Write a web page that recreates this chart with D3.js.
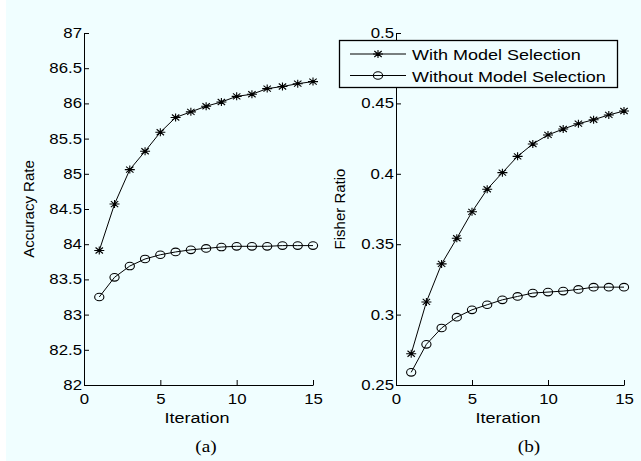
<!DOCTYPE html>
<html>
<head>
<meta charset="utf-8">
<script src="https://cdn.jsdelivr.net/npm/d3@7"></script>
<style>
  body { margin: 0; background: #fff; }
  svg { display: block; }
  text { font-family: "Liberation Sans", Arial, sans-serif; fill: #000; }
  .stretch { transform-box: fill-box; transform: scaleX(1.2); }
  .yax .tick text { transform-box: fill-box; transform-origin: right center; transform: scaleX(1.2); }
  .xax .tick text { transform-box: fill-box; transform-origin: center center; transform: scaleX(1.2); }
</style>
</head>
<body>
<script>

// iterations on the x axis
var iterations = [1, 2, 3, 4, 5, 6, 7, 8, 9, 10, 11, 12, 13, 14, 15];

// (a) accuracy rate
var acc_with = [83.91, 84.57, 85.06, 85.32, 85.59, 85.80, 85.88, 85.96, 86.02, 86.10, 86.13, 86.21, 86.24, 86.28, 86.31];
var acc_without = [83.25, 83.53, 83.69, 83.79, 83.85, 83.89, 83.92, 83.94, 83.96, 83.97, 83.97, 83.97, 83.98, 83.98, 83.98];

// (b) fisher ratio
var fisher_with = [0.2722, 0.309, 0.336, 0.3542, 0.373, 0.389, 0.4008, 0.4124, 0.4212, 0.4276, 0.4318, 0.4356, 0.4384, 0.4418, 0.4446];
var fisher_without = [0.259, 0.2789, 0.2905, 0.2982, 0.3034, 0.307, 0.3105, 0.3129, 0.3153, 0.316, 0.3167, 0.3179, 0.3195, 0.3195, 0.3195];

var x_ticks = [0, 5, 10, 15];
var acc_ticks = [82, 82.5, 83, 83.5, 84, 84.5, 85, 85.5, 86, 86.5, 87];
var fisher_ticks = [0.25, 0.3, 0.35, 0.4, 0.45, 0.5];

var series_names = ["With Model Selection", "Without Model Selection"];

var W = 641, H = 461;
var bg = "#f0feff";

var svg = d3.select("body").append("svg")
  .attr("width", W)
  .attr("height", H);

svg.append("rect").attr("width", W).attr("height", H).attr("fill", bg);
svg.append("rect").attr("width", 6).attr("height", H).attr("fill", "#fff");

var star = "M-5,0H5M0,-4V4M-3.7,-3L3.7,3M-3.7,3L3.7,-3";

function draw_star(sel) {
  sel.append("path").attr("d", star)
    .attr("fill", "none").attr("stroke", "#000").attr("stroke-width", 1.1);
}
function draw_circle(sel) {
  sel.append("ellipse").attr("rx", 4.6).attr("ry", 3.8)
    .attr("fill", "none").attr("stroke", "#000").attr("stroke-width", 1.1);
}

function make_panel(opt) {
  var x_scale = d3.scaleLinear().domain([0, 15]).range([opt.left, opt.right]);
  var y_scale = d3.scaleLinear().domain(opt.ydomain).range([385, 33]);

  var g = svg.append("g");

  // axes, ticks pointing inwards like matlab
  g.append("g")
    .attr("class", "xax")
    .attr("transform", "translate(0,385)")
    .call(d3.axisBottom(x_scale).tickValues(x_ticks).tickSizeInner(-5).tickSizeOuter(0).tickPadding(9))
    .call(function(a) {
      a.selectAll("text").style("font-size", "14px").style("font-family", "Liberation Sans, Arial, sans-serif");
      a.selectAll("line,path").attr("stroke", "#000");
    });

  g.append("g")
    .attr("class", "yax")
    .attr("transform", "translate(" + opt.left + ",0)")
    .call(d3.axisLeft(y_scale).tickValues(opt.yticks).tickSizeInner(-5).tickSizeOuter(0).tickPadding(2)
      .tickFormat(function(d) { return String(+d.toFixed(2)); }))
    .call(function(a) {
      a.selectAll("text").style("font-size", "14px").style("font-family", "Liberation Sans, Arial, sans-serif");
      a.selectAll("line,path").attr("stroke", "#000");
    });

  // axis labels
  g.append("text")
    .attr("class", "stretch")
    .style("transform-origin", "center center")
    .attr("x", opt.xlabel_x)
    .attr("y", 423)
    .attr("text-anchor", "middle")
    .style("font-size", "15px")
    .text("Iteration");

  g.append("text")
    .attr("transform", "translate(" + opt.ylabel_x + ",209) rotate(-90)")
    .attr("text-anchor", "middle")
    .style("font-size", "15px")
    .text(opt.ylabel);

  g.append("text")
    .attr("class", "stretch")
    .style("transform-origin", "center center")
    .attr("x", opt.cap_x)
    .attr("y", 452)
    .attr("text-anchor", "middle")
    .style("font-family", "Liberation Serif, Times New Roman, serif")
    .style("font-size", "16px")
    .text(opt.caption);

  var line = d3.line()
    .x(function(d, i) { return x_scale(iterations[i]); })
    .y(function(d) { return y_scale(d); });

  [opt.with_vals, opt.without_vals].forEach(function(vals, k) {
    g.append("path")
      .datum(vals)
      .attr("d", line)
      .attr("fill", "none")
      .attr("stroke", "#000")
      .attr("stroke-width", 1);

    var marks = g.selectAll(null)
      .data(vals)
      .enter()
      .append("g")
      .attr("transform", function(d, i) {
        return "translate(" + x_scale(iterations[i]) + "," + y_scale(d) + ")";
      });
    if (k === 0) draw_star(marks); else draw_circle(marks);
  });
}

make_panel({
  left: 84, right: 313, ydomain: [82, 87], yticks: acc_ticks,
  with_vals: acc_with, without_vals: acc_without,
  ylabel: "Accuracy Rate", ylabel_x: 33.5, xlabel_x: 197, cap_x: 206, caption: "(a)"
});

make_panel({
  left: 396, right: 624, ydomain: [0.25, 0.5], yticks: fisher_ticks,
  with_vals: fisher_with, without_vals: fisher_without,
  ylabel: "Fisher Ratio", ylabel_x: 345, xlabel_x: 508, cap_x: 529, caption: "(b)"
});

// legend in the right panel
var legend = svg.append("g");
legend.append("rect")
  .attr("x", 339.5).attr("y", 40.5)
  .attr("width", 278).attr("height", 47)
  .attr("fill", bg)
  .attr("stroke", "#000")
  .attr("stroke-width", 1.3);

var rows = legend.selectAll(null)
  .data(series_names)
  .enter()
  .append("g")
  .attr("transform", function(d, i) { return "translate(0," + (i === 0 ? 54 : 75.5) + ")"; });

rows.append("line")
  .attr("x1", 350).attr("x2", 406)
  .attr("stroke", "#000").attr("stroke-width", 1);

rows.append("text")
  .attr("class", "stretch")
  .style("transform-origin", "left center")
  .attr("x", 412)
  .attr("y", 6)
  .style("font-size", "15px")
  .text(function(d) { return d; });

rows.each(function(d, i) {
  var m = d3.select(this).append("g").attr("transform", "translate(378,0)");
  if (i === 0) draw_star(m); else draw_circle(m);
});

</script>
</body>
</html>
